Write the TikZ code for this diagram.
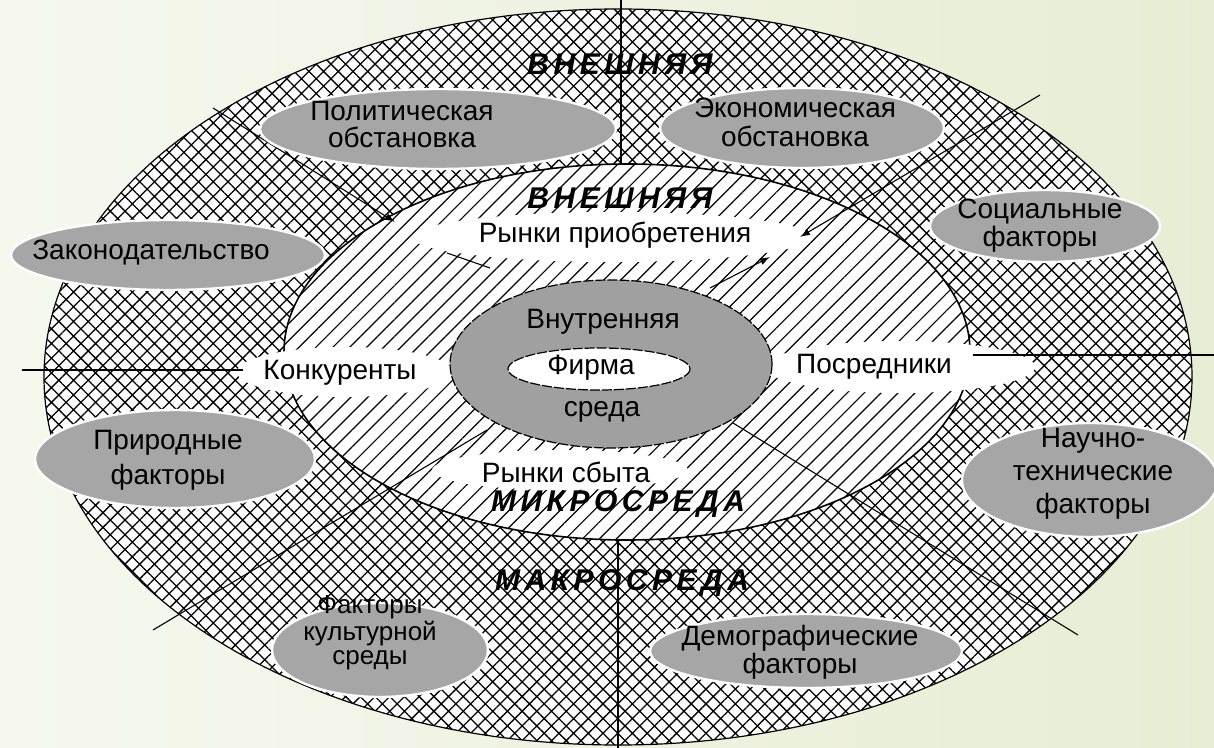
\documentclass[tikz,border=0pt]{standalone}
\usepackage{fontspec}
\setmainfont{Liberation Sans}
\newfontfamily\zonefont[LetterSpace=15]{Liberation Sans}
\usepackage{xcolor}
\usepackage{tikz}
\usetikzlibrary{arrows.meta, patterns.meta}

\definecolor{bgleft}{RGB}{246,248,238}
\definecolor{bgright}{RGB}{231,237,213}
\definecolor{blobgrey}{RGB}{166,166,166}
\definecolor{coregrey}{RGB}{160,160,160}

\begin{document}
\begin{tikzpicture}[
    x=0.5pt, y=-0.5pt,
    lbl/.style={
        inner sep=0pt,
        align=center,
        font=\fontsize{14}{13.5}\selectfont
    },
    zone/.style={
        inner sep=0pt,
        font=\zonefont\bfseries\itshape\fontsize{15}{15}\selectfont
    },
    blob/.style={
        fill=blobgrey,
        draw=white,
        line width=1.2pt
    },
    band/.style={
        fill=white
    },
    divider/.style={
        line width=0.55pt
    },
    inward/.style={
        divider,
        -{Latex[length=5pt,width=3.5pt]}
    }
]

% Backdrop
\shade[left color=bgleft, right color=bgright] (0,0) rectangle (1214,748);
\useasboundingbox (0,0) rectangle (1214,748);

% Ring 1: macro-environment
\path[preaction={fill=white}, pattern={Hatch[angle=45,distance=5.2pt,line width=0.65pt]},
      draw, line width=0.6pt] (618,377) ellipse [x radius=574, y radius=368];

% Ring 2: micro-environment
\path[preaction={fill=white}, pattern={Lines[angle=45,distance=6pt,line width=0.6pt]},
      draw, line width=0.8pt] (627,352) ellipse [x radius=343, y radius=188];

% White bands behind the market labels
\path[band] (612,237) ellipse [x radius=200, y radius=25];
\path[band] (345,372) ellipse [x radius=108, y radius=25];
\path[band] (900,367) ellipse [x radius=135, y radius=26];
\path[band] (560,470) ellipse [x radius=128, y radius=20];

% Divider end points
\coordinate (topout) at (621,0);
\coordinate (topin) at (621,164);
\coordinate (botin) at (618,540);
\coordinate (botout) at (618,748);
\coordinate (lfout) at (22,370);
\coordinate (lfin) at (243,370);
\coordinate (rtin) at (973,355);
\coordinate (rtout) at (1214,355);
\coordinate (ulout) at (213,108);
\coordinate (ulmid) at (395,222);
\coordinate (ulgap) at (447,253);
\coordinate (ulin) at (490,268);
\coordinate (urout) at (1040,95);
\coordinate (urmid) at (800,237);
\coordinate (urin) at (710,288);
\coordinate (urback) at (770,257);
\coordinate (llout) at (153,630);
\coordinate (llin) at (487,430);
\coordinate (lrin) at (733,423);
\coordinate (lrout) at (1078,635);

% Dividers
\draw[divider] (topout) -- (topin);
\draw[divider] (botin) -- (botout);
\draw[divider] (lfout) -- (lfin);
\draw[divider] (rtin) -- (rtout);
\draw[inward] (ulout) -- (ulmid);
\draw[divider] (ulgap) -- (ulin);
\draw[inward] (urout) -- (urmid);
\draw[inward] (urin) -- (urback);
\draw[divider] (llout) -- (llin);
\draw[divider] (lrin) -- (lrout);

% Macro factors
\path[blob] (438,129) ellipse [x radius=178, y radius=40];
\path[blob] (802,128) ellipse [x radius=142, y radius=40];
\path[blob] (1045,226) ellipse [x radius=115, y radius=36];
\path[blob] (168,255) ellipse [x radius=157, y radius=35];
\path[blob] (175,459) ellipse [x radius=140, y radius=49];
\path[blob] (1090,480) ellipse [x radius=128, y radius=57];
\path[blob] (380,650) ellipse [x radius=108, y radius=47];
\path[blob] (806,651) ellipse [x radius=156, y radius=37];

% Core: internal environment and firm
\path[fill=coregrey, draw, line width=0.6pt, dash pattern=on 5pt off 1pt]
    (611,364) ellipse [x radius=161, y radius=84];
\path[fill=white, draw, line width=0.6pt, dash pattern=on 5pt off 1pt]
    (599,369) ellipse [x radius=91, y radius=21];

% Zone titles
\node[zone] (extouter) at (620,64) {ВНЕШНЯЯ};
\node[zone] (extinner) at (620,198) {ВНЕШНЯЯ};
\node[zone] (micro) at (618,504) {МИКРОСРЕДА};
\node[zone] (macro) at (622,583) {МАКРОСРЕДА};

% Micro-environment labels
\node[lbl] (buy) at (615,235) {Рынки приобретения};
\node[lbl] (rivals) at (340,373) {Конкуренты};
\node[lbl] (agents) at (874,367) {Посредники};
\node[lbl] (sell) at (566,472) {Рынки сбыта};

% Core labels
\node[lbl] (inner) at (603,322) {Внутренняя};
\node[lbl] (firm) at (591,368) {Фирма};
\node[lbl] (medium) at (602,412) {среда};

% Macro factor labels
\node[lbl] (polit) at (402,125) {Политическая\\обстановка};
\node[lbl, font=\fontsize{14}{14.5}\selectfont] (econ) at (795,122) {Экономическая\\обстановка};
\node[lbl, font=\fontsize{14}{11.5}\selectfont] (social) at (1040,226) {Социальные\\факторы};
\node[lbl] (law) at (151,253) {Законодательство};
\node[lbl, font=\fontsize{14}{17.5}\selectfont] (nature) at (168,460) {Природные\\факторы};
\node[lbl, font=\fontsize{14}{16.5}\selectfont] (tech) at (1093,474) {Научно-\\технические\\факторы};
\node[lbl, font=\fontsize{13}{12}\selectfont] (culture) at (370,633) {Факторы\\культурной\\среды};
\node[lbl, font=\fontsize{14}{12.5}\selectfont] (demo) at (800,652) {Демографические\\факторы};

\end{tikzpicture}
\end{document}
